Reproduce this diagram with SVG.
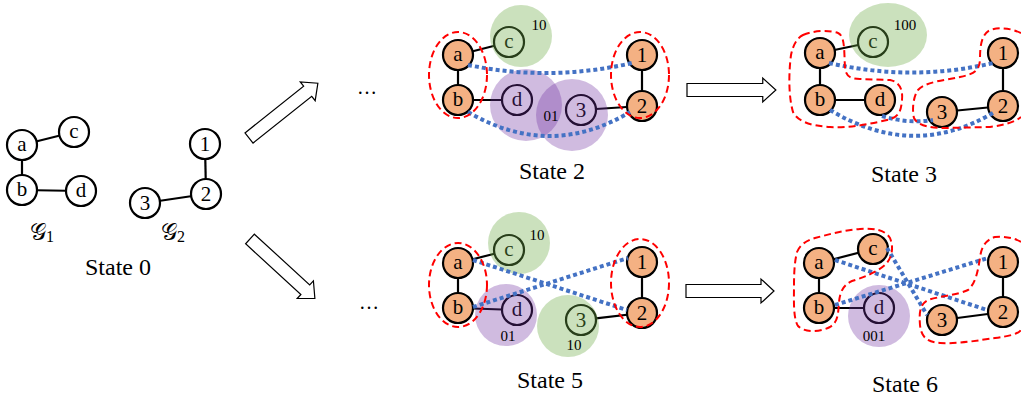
<svg xmlns="http://www.w3.org/2000/svg" width="1021" height="396" viewBox="0 0 1021 396">
<style>
.n{stroke:#000;stroke-width:2.2;fill:#fff}
.o{stroke:#000;stroke-width:2.2;fill:#F4B183}
.t{font-family:"Liberation Serif",serif;font-size:21px;fill:#000;text-anchor:middle;dominant-baseline:central}
.lab{font-family:"Liberation Serif",serif;font-size:24px;fill:#000;text-anchor:middle}
.small{font-family:"Liberation Serif",serif;font-size:15px;fill:#000;text-anchor:middle}
.e{stroke:#000;stroke-width:2.2;fill:none}
.blue{stroke:#4472C4;stroke-width:4;stroke-dasharray:4 3;fill:none}
.red{stroke:#FF0000;stroke-width:2;stroke-dasharray:7 4;fill:none}
.grn{fill:#70AD47;fill-opacity:0.36}
.pur{fill:#7030A0;fill-opacity:0.33}
.arr{fill:#fff;stroke:#000;stroke-width:1.2}
</style>
<defs>
<polygon id="arrow" points="0,-6.5 75,-6.5 75,-12 88,0 75,12 75,6.5 0,6.5"/>
</defs>

<!-- State 0 -->
<g id="s0">
<g id="connectors-s0">
<line class="e" x1="22" y1="145" x2="74" y2="132"/>
<line class="e" x1="22" y1="145" x2="22" y2="190"/>
<line class="e" x1="22" y1="190" x2="81" y2="191"/>
<line class="e" x1="205" y1="144" x2="206" y2="194"/>
<line class="e" x1="145" y1="203" x2="206" y2="194"/>
</g>
<g id="s0-a"><circle class="n" cx="22" cy="145" r="15"/><text class="t" x="22" y="144">a</text></g>
<g id="s0-c"><circle class="n" cx="74" cy="132" r="15"/><text class="t" x="74" y="131">c</text></g>
<g id="s0-b"><circle class="n" cx="22" cy="190" r="15"/><text class="t" x="22" y="189">b</text></g>
<g id="s0-d"><circle class="n" cx="81" cy="191" r="15"/><text class="t" x="81" y="190">d</text></g>
<g id="s0-1"><circle class="n" cx="205" cy="144" r="15"/><text class="t" x="205" y="144">1</text></g>
<g id="s0-2"><circle class="n" cx="206" cy="194" r="15"/><text class="t" x="206" y="194">2</text></g>
<g id="s0-3"><circle class="n" cx="145" cy="203" r="15"/><text class="t" x="145" y="203">3</text></g>
<text class="lab" x="42" y="240" style="font-size:23px">𝒢<tspan dy="2" style="font-size:16px">1</tspan></text>
<text class="lab" x="173" y="240" style="font-size:23px">𝒢<tspan dy="2" style="font-size:16px">2</tspan></text>
<text class="lab" x="118" y="275">State 0</text>
</g>

<!-- transition arrows -->
<g id="arrows">
<use href="#arrow" class="arr" transform="translate(249,138) rotate(-38.5)"/>
<use href="#arrow" class="arr" transform="translate(250,239) rotate(42.5)"/>
<use href="#arrow" class="arr" transform="translate(687,90) scale(1.01,1)"/>
<use href="#arrow" class="arr" transform="translate(686,291)"/>
</g>
<text class="lab" x="367" y="94" style="font-size:20px">…</text>
<text class="lab" x="369" y="309" style="font-size:20px">…</text>

<!-- State 2 -->
<g id="s2">
<g id="connectors-s2">
<line class="e" x1="458" y1="55" x2="494.5" y2="45.7"/>
<line class="e" x1="458" y1="55" x2="458" y2="100"/>
<line class="e" x1="458" y1="100" x2="502" y2="100"/>
<line class="e" x1="596" y1="109" x2="642" y2="106"/>
<line class="e" x1="642" y1="55" x2="642" y2="106"/>
</g>
<g id="s2-a"><circle class="o" cx="458" cy="55" r="15"/><text class="t" x="458" y="54">a</text></g>
<g id="s2-b"><circle class="o" cx="458" cy="100" r="15"/><text class="t" x="458" y="99">b</text></g>
<g id="s2-c"><circle class="e" cx="509" cy="42" r="15"/><text class="t" x="509" y="41">c</text></g>
<g id="s2-d"><circle class="e" cx="517" cy="100" r="15"/><text class="t" x="517" y="99">d</text></g>
<g id="s2-3"><circle class="e" cx="581" cy="110" r="15"/><text class="t" x="581" y="110">3</text></g>
<g id="s2-1"><circle class="o" cx="642" cy="55" r="15"/><text class="t" x="642" y="55">1</text></g>
<g id="s2-2"><circle class="o" cx="642" cy="106" r="15"/><text class="t" x="642" y="106">2</text></g>
<g id="s2-regions">
<circle class="grn" cx="521" cy="36" r="31"/>
<circle class="pur" cx="526" cy="105" r="36"/>
<circle class="pur" cx="572" cy="115" r="36"/>
<text class="small" x="539" y="30">10</text>
<text class="small" x="551" y="121">01</text>
</g>
<g id="s2-match">
<path class="blue" d="M468,65 Q550,82 632,63"/>
<path class="blue" d="M468,112 Q550,160 630,112"/>
<ellipse class="red" cx="458" cy="75" rx="29" ry="43"/>
<ellipse class="red" cx="640" cy="75" rx="29" ry="43"/>
</g>
<text class="lab" x="552" y="179">State 2</text>
</g>

<!-- State 3 -->
<g id="s3">
<g id="connectors-s3">
<line class="e" x1="820" y1="53" x2="858.3" y2="45"/>
<line class="e" x1="820" y1="53" x2="820" y2="100"/>
<line class="e" x1="820" y1="100" x2="880" y2="100"/>
<line class="e" x1="942" y1="112" x2="1003" y2="106"/>
<line class="e" x1="1003" y1="53" x2="1003" y2="106"/>
</g>
<g id="s3-a"><circle class="o" cx="820" cy="53" r="15"/><text class="t" x="820" y="52">a</text></g>
<g id="s3-b"><circle class="o" cx="820" cy="100" r="15"/><text class="t" x="820" y="99">b</text></g>
<g id="s3-c"><circle class="e" cx="873" cy="42" r="15"/><text class="t" x="873" y="41">c</text></g>
<g id="s3-d"><circle class="o" cx="880" cy="100" r="15"/><text class="t" x="880" y="99">d</text></g>
<g id="s3-3"><circle class="o" cx="942" cy="112" r="15"/><text class="t" x="942" y="112">3</text></g>
<g id="s3-1"><circle class="o" cx="1003" cy="53" r="15"/><text class="t" x="1003" y="53">1</text></g>
<g id="s3-2"><circle class="o" cx="1003" cy="106" r="15"/><text class="t" x="1003" y="106">2</text></g>
<g id="s3-regions">
<ellipse class="grn" cx="888" cy="35" rx="39" ry="32"/>
<text class="small" x="905" y="30">100</text>
</g>
<g id="s3-match">
<path class="blue" d="M829,63 Q912,82 993,63"/>
<path class="blue" d="M830,110 Q913,160 993,113"/>
<path class="blue" d="M882,116 Q908,124 933,120"/>
<path class="red" d="M803,35 C815,30 830,30 838,33 C845,36 844,50 845,68 C846,76 850,79 860,79 L890,80 C900,82 903,90 902,100 C901,110 900,117 887,120 C870,124 850,128 830,127 C812,126 798,122 793,112 C788,95 789,70 791,55 C793,45 797,38 803,35 Z"/>
<path class="red" d="M1021,33 C1010,28 1000,27 990,30 C982,34 980,45 980,58 C980,70 975,74 960,77 C945,80 925,82 918,90 C913,97 912,110 914,118 C918,126 930,128 945,128 L990,127 C1005,125 1015,122 1021,117"/>
</g>
<text class="lab" x="904" y="182">State 3</text>
</g>

<!-- State 5 -->
<g id="s5">
<g id="connectors-s5">
<line class="e" x1="458" y1="263" x2="494.5" y2="253.7"/>
<line class="e" x1="458" y1="263" x2="458" y2="308"/>
<line class="e" x1="458" y1="308" x2="502" y2="309.5"/>
<line class="e" x1="595.9" y1="318.3" x2="642" y2="313"/>
<line class="e" x1="642" y1="262" x2="642" y2="313"/>
</g>
<g id="s5-a"><circle class="o" cx="458" cy="263" r="15"/><text class="t" x="458" y="262">a</text></g>
<g id="s5-b"><circle class="o" cx="458" cy="308" r="15"/><text class="t" x="458" y="307">b</text></g>
<g id="s5-c"><circle class="e" cx="509" cy="250" r="15"/><text class="t" x="509" y="249">c</text></g>
<g id="s5-d"><circle class="e" cx="517" cy="310" r="15"/><text class="t" x="517" y="309">d</text></g>
<g id="s5-3"><circle class="e" cx="581" cy="320" r="15"/><text class="t" x="581" y="320">3</text></g>
<g id="s5-1"><circle class="o" cx="642" cy="262" r="15"/><text class="t" x="642" y="262">1</text></g>
<g id="s5-2"><circle class="o" cx="642" cy="313" r="15"/><text class="t" x="642" y="313">2</text></g>
<g id="s5-regions">
<circle class="grn" cx="519" cy="243" r="31"/>
<circle class="pur" cx="506" cy="315" r="31"/>
<circle class="grn" cx="568" cy="326" r="31"/>
<text class="small" x="537" y="240">10</text>
<text class="small" x="508" y="341">01</text>
<text class="small" x="574" y="350">10</text>
</g>
<g id="s5-match">
<line class="blue" x1="473" y1="260" x2="627" y2="310"/>
<line class="blue" x1="473" y1="307" x2="628" y2="258"/>
<ellipse class="red" cx="458" cy="285" rx="29" ry="42"/>
<ellipse class="red" cx="640" cy="283" rx="29" ry="44"/>
</g>
<text class="lab" x="550" y="388">State 5</text>
</g>

<!-- State 6 -->
<g id="s6">
<g id="connectors-s6">
<line class="e" x1="819" y1="263" x2="873" y2="249"/>
<line class="e" x1="819" y1="263" x2="819" y2="308"/>
<line class="e" x1="819" y1="308" x2="864" y2="308"/>
<line class="e" x1="942" y1="320" x2="1003" y2="312"/>
<line class="e" x1="1003" y1="262" x2="1003" y2="312"/>
</g>
<g id="s6-a"><circle class="o" cx="819" cy="263" r="15"/><text class="t" x="819" y="262">a</text></g>
<g id="s6-b"><circle class="o" cx="819" cy="308" r="15"/><text class="t" x="819" y="307">b</text></g>
<g id="s6-c"><circle class="o" cx="873" cy="249" r="15"/><text class="t" x="873" y="248">c</text></g>
<g id="s6-d"><circle class="e" cx="879" cy="308" r="15"/><text class="t" x="879" y="307">d</text></g>
<g id="s6-3"><circle class="o" cx="942" cy="320" r="15"/><text class="t" x="942" y="320">3</text></g>
<g id="s6-1"><circle class="o" cx="1003" cy="262" r="15"/><text class="t" x="1003" y="262">1</text></g>
<g id="s6-2"><circle class="o" cx="1003" cy="312" r="15"/><text class="t" x="1003" y="312">2</text></g>
<g id="s6-regions">
<circle class="pur" cx="879" cy="316" r="31"/>
<text class="small" x="874" y="341">001</text>
</g>
<g id="s6-match">
<line class="blue" x1="835" y1="260" x2="987" y2="310"/>
<line class="blue" x1="887" y1="248" x2="927" y2="315"/>
<line class="blue" x1="835" y1="305" x2="988" y2="258"/>
<path class="red" d="M797,252 C800,244 808,240 815,238 C830,234 845,230 860,229 C875,228 885,230 890,238 C894,248 892,258 885,265 C877,272 865,277 852,281 C843,285 840,292 839,302 C838,315 838,322 830,327 C820,332 805,333 798,326 C793,318 794,300 794,285 C794,270 795,260 797,252 Z"/>
<path class="red" d="M1021,242 C1015,238 1005,236 995,237 C985,240 981,248 980,258 C978,270 976,283 968,290 C958,295 940,296 928,300 C920,304 919,312 920,325 C921,335 925,342 940,343 C960,344 980,340 995,338 C1010,336 1018,334 1021,330"/>
</g>
<text class="lab" x="905" y="392">State 6</text>
</g>
</svg>
